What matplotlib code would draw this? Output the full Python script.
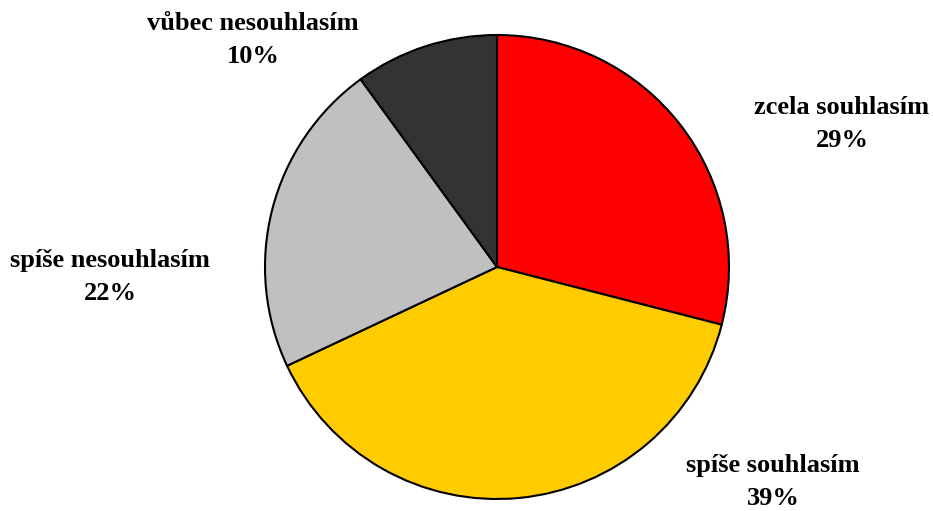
import matplotlib
matplotlib.use("Agg")
import matplotlib.pyplot as plt

categories = ["zcela souhlasím", "spíše souhlasím", "spíše nesouhlasím", "vůbec nesouhlasím"]
values = [29, 39, 22, 10]
colors = ["#FF0000", "#FFCC00", "#C0C0C0", "#333333"]
# label anchor positions (pixels, y from top)
label_pos = [(842, 124), (773, 482), (110, 277), (253, 40)]

W, H = 933, 511
fig = plt.figure(figsize=(W / 100, H / 100), dpi=100)
ax = fig.add_axes([0, 0, 1, 1])

cx, cy, r = 497, H - 267, 232
ax.pie(values, colors=colors, startangle=90, counterclock=False,
       center=(cx, cy), radius=r, frame=True,
       wedgeprops=dict(edgecolor="black", linewidth=1.5))
ax.set_xlim(0, W)
ax.set_ylim(0, H)
ax.set_aspect("auto")
ax.axis("off")

for cat, v, (x, y) in zip(categories, values, label_pos):
    ax.text(x, H - y, f"{cat}\n{v}%", ha="center", va="center",
            fontsize=19, fontweight="bold", family="Liberation Serif",
            linespacing=1.55)

fig.savefig("out.png", dpi=100)
